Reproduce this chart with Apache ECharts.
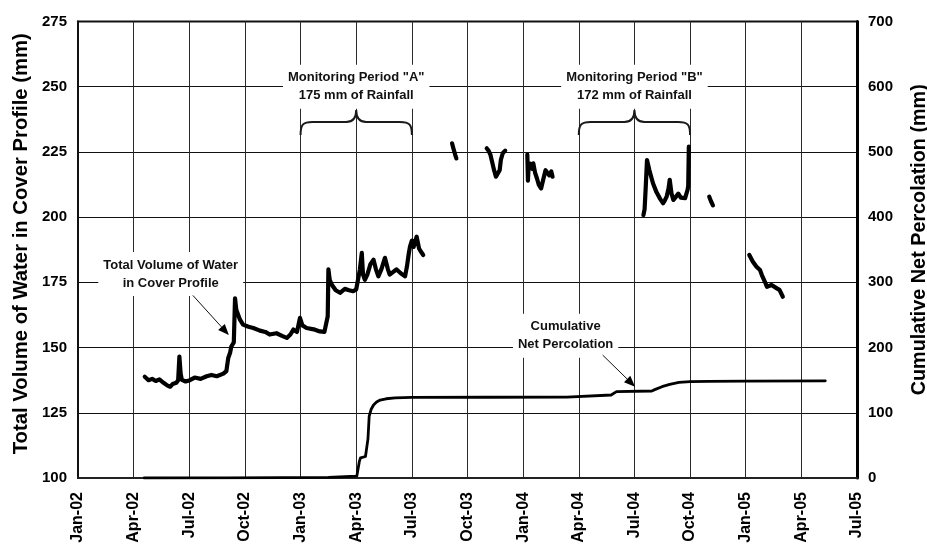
<!DOCTYPE html>
<html>
<head>
<meta charset="utf-8">
<script src="https://cdn.jsdelivr.net/npm/echarts@6/dist/echarts.min.js"></script>
<style>
  html, body { margin: 0; padding: 0; background: #fff; }
  #chart { width: 927px; height: 546px; }
</style>
</head>
<body>
<div id="chart"></div>
<script>
// Quarter tick labels along the bottom axis (one every three months from Jan-02)
const quarterLabels = ['Jan-02', 'Apr-02', 'Jul-02', 'Oct-02', 'Jan-03', 'Apr-03', 'Jul-03',
  'Oct-03', 'Jan-04', 'Apr-04', 'Jul-04', 'Oct-04', 'Jan-05', 'Apr-05', 'Jul-05'];

// Total volume of water in the cover profile (mm), logged in separate runs
const volumeRun1 = [
  ['2002-04-19', 138.8], ['2002-04-25', 137.5], ['2002-05-01', 138], ['2002-05-07', 137.2],
  ['2002-05-13', 137.8], ['2002-05-20', 136.5], ['2002-05-26', 135.5], ['2002-05-31', 135],
  ['2002-06-04', 136], ['2002-06-10', 136.5], ['2002-06-13', 137.5], ['2002-06-15', 146.5],
  ['2002-06-17', 140], ['2002-06-19', 137.6], ['2002-06-25', 137], ['2002-07-02', 137.5],
  ['2002-07-10', 138.5], ['2002-07-20', 138], ['2002-07-30', 139], ['2002-08-07', 139.5],
  ['2002-08-16', 139], ['2002-08-27', 140], ['2002-09-01', 141], ['2002-09-04', 146],
  ['2002-09-07', 148], ['2002-09-09', 150.4], ['2002-09-13', 152], ['2002-09-15', 168.9],
  ['2002-09-17', 164.5], ['2002-09-23', 160.7], ['2002-09-28', 158.8], ['2002-10-07', 158],
  ['2002-10-15', 157.5], ['2002-10-26', 156.5], ['2002-11-04', 156], ['2002-11-11', 155],
  ['2002-11-22', 155.5], ['2002-12-01', 154.5], ['2002-12-09', 153.7], ['2002-12-15', 155],
  ['2002-12-20', 156.9], ['2002-12-26', 156], ['2002-12-31', 161.4], ['2003-01-04', 158.5],
  ['2003-01-11', 157.5], ['2003-01-23', 157], ['2003-02-02', 156.2], ['2003-02-09', 156],
  ['2003-02-12', 155.6], ['2003-02-14', 162], ['2003-02-15', 180], ['2003-02-17', 176],
  ['2003-02-20', 174.2], ['2003-02-26', 172], ['2003-03-05', 171], ['2003-03-13', 172.5],
  ['2003-03-20', 172], ['2003-03-27', 171.6], ['2003-04-01', 172.3], ['2003-04-04', 172.3],
  ['2003-04-07', 180], ['2003-04-10', 186.3], ['2003-04-12', 178], ['2003-04-15', 176],
  ['2003-04-19', 178], ['2003-04-24', 182], ['2003-04-29', 183.7], ['2003-05-03', 180],
  ['2003-05-07', 177.3], ['2003-05-12', 180], ['2003-05-18', 184.4], ['2003-05-23', 180],
  ['2003-05-26', 178], ['2003-06-01', 179], ['2003-06-06', 180], ['2003-06-13', 178.5],
  ['2003-06-20', 177.3], ['2003-06-23', 181], ['2003-06-26', 186], ['2003-06-28', 188.7],
  ['2003-07-01', 191], ['2003-07-04', 188.6], ['2003-07-09', 192.5], ['2003-07-13', 188],
  ['2003-07-16', 186.8], ['2003-07-20', 185.5]
];
const volumeRun2 = [
  ['2003-09-06', 228.3], ['2003-09-08', 226.5], ['2003-09-11', 224], ['2003-09-13', 222.5]
];
const volumeRun3 = [
  ['2003-11-02', 226.4], ['2003-11-05', 225.5], ['2003-11-08', 224], ['2003-11-11', 221],
  ['2003-11-14', 218], ['2003-11-17', 215.5], ['2003-11-20', 214.9], ['2003-11-23', 218],
  ['2003-11-25', 222], ['2003-11-28', 224.5], ['2003-12-02', 225.5]
];
const volumeRun4 = [
  ['2004-01-08', 224], ['2004-01-09', 214], ['2004-01-10', 219], ['2004-01-13', 220.5],
  ['2004-01-16', 218.5], ['2004-01-18', 220.6], ['2004-01-21', 217], ['2004-01-24', 214.9],
  ['2004-01-27', 212.5], ['2004-01-31', 211], ['2004-02-04', 215], ['2004-02-07', 218],
  ['2004-02-09', 218.7], ['2004-02-13', 216], ['2004-02-16', 217.5], ['2004-02-18', 215.5]
];
const volumeRun5 = [
  ['2004-07-16', 200.8], ['2004-07-18', 203], ['2004-07-20', 212], ['2004-07-22', 221.9],
  ['2004-07-26', 218], ['2004-08-01', 213], ['2004-08-07', 209.5], ['2004-08-13', 207],
  ['2004-08-18', 205.3], ['2004-08-21', 206.5], ['2004-08-24', 208], ['2004-08-27', 211],
  ['2004-08-29', 214.3], ['2004-09-01', 209], ['2004-09-04', 206.6], ['2004-09-07', 207.5],
  ['2004-09-12', 209], ['2004-09-16', 207.5], ['2004-09-19', 208], ['2004-09-23', 207.3],
  ['2004-09-27', 210.5], ['2004-09-28', 212], ['2004-09-29', 227]
];
const volumeRun6 = [
  ['2004-11-02', 207.8], ['2004-11-05', 206], ['2004-11-08', 204.5]
];
const volumeRun7 = [
  ['2005-01-07', 185.5], ['2005-01-13', 182.9], ['2005-01-19', 181], ['2005-01-25', 179.7],
  ['2005-01-28', 177.8], ['2005-02-02', 175.2], ['2005-02-05', 173.3], ['2005-02-12', 174],
  ['2005-02-20', 172.7], ['2005-02-24', 172.1], ['2005-03-01', 169.5]
];

// Cumulative net percolation (mm), right-hand axis
const percolation = [
  ['2002-04-18', 0], ['2002-09-01', 0.3], ['2002-12-01', 0.6], ['2003-02-15', 1],
  ['2003-03-13', 2], ['2003-04-02', 3], ['2003-04-04', 4], ['2003-04-06', 25],
  ['2003-04-08', 31], ['2003-04-16', 33], ['2003-04-19', 36], ['2003-04-20', 60],
  ['2003-04-22', 95], ['2003-04-25', 105], ['2003-04-29', 112], ['2003-05-04', 116.5],
  ['2003-05-10', 119.5], ['2003-05-20', 121.5], ['2003-06-04', 123], ['2003-07-01', 123.5],
  ['2003-11-01', 123.8], ['2004-03-12', 124], ['2004-03-13', 127], ['2004-05-24', 127.3],
  ['2004-05-27', 129.5], ['2004-06-02', 132.5], ['2004-06-05', 133.2], ['2004-07-30', 133.4],
  ['2004-08-04', 135.5], ['2004-08-16', 140], ['2004-08-29', 143.5], ['2004-09-13', 146.5],
  ['2004-10-01', 147.8], ['2004-11-01', 148.3], ['2005-01-01', 148.7], ['2005-05-10', 149]
];

// Monitoring periods marked with braces: start, end
const periodStarts = ['2003-01-01', '2004-04-01'];
const periodEnds = ['2003-07-01', '2004-10-01'];
const periodTitles = ['Monitoring Period "A"\n175 mm of Rainfall', 'Monitoring Period "B"\n172 mm of Rainfall'];

// Series callouts: text, and arrows pointing at the curves
const calloutTexts = ['Total Volume of Water\nin Cover Profile', 'Cumulative\nNet Percolation'];

// Convert a date string into fractional months since 1 Jan 2002
function monthIndex(s) {
  const [y, m, d] = s.split('-').map(Number);
  const daysInMonth = new Date(y, m, 0).getDate();
  return (y - 2002) * 12 + (m - 1) + (d - 1) / daysInMonth;
}
const toXY = arr => arr.map(([d, v]) => [monthIndex(d), v]);

const FONT = '"Liberation Sans", Arial, Helvetica, sans-serif';
const INK = '#000';

const volumeRuns = [volumeRun1, volumeRun2, volumeRun3, volumeRun4, volumeRun5, volumeRun6, volumeRun7];
const volumeSeries = volumeRuns.map(run => ({
  type: 'line',
  yAxisIndex: 0,
  data: toXY(run),
  showSymbol: false,
  symbol: 'none',
  silent: true,
  lineStyle: { color: INK, width: 4.2, join: 'round', cap: 'round' },
  z: 5
}));

const percolationSeries = {
  type: 'line',
  yAxisIndex: 1,
  data: toXY(percolation),
  showSymbol: false,
  symbol: 'none',
  silent: true,
  lineStyle: { color: INK, width: 2.8, join: 'round', cap: 'round' },
  z: 4
};

// Curly braces above each monitoring period
const braceSeries = {
  type: 'custom',
  coordinateSystem: 'cartesian2d',
  yAxisIndex: 0,
  silent: true,
  data: periodStarts.map((s, i) => [monthIndex(s), monthIndex(periodEnds[i]), 236.5]),
  renderItem(params, api) {
    const a = api.coord([api.value(0), api.value(2)]);
    const b = api.coord([api.value(1), api.value(2)]);
    const x1 = a[0], x2 = b[0], y = a[1], xm = (x1 + x2) / 2;
    const path =
      `M${x1},${y + 13} C${x1},${y + 3} ${x1 + 2},${y} ${x1 + 12},${y} ` +
      `L${xm - 10},${y} C${xm - 3},${y} ${xm},${y - 4} ${xm},${y - 12} ` +
      `C${xm},${y - 4} ${xm + 3},${y} ${xm + 10},${y} ` +
      `L${x2 - 12},${y} C${x2 - 2},${y} ${x2},${y + 3} ${x2},${y + 13}`;
    return {
      type: 'path',
      shape: { pathData: path },
      style: { stroke: '#1a1a1a', lineWidth: 2, fill: null }
    };
  },
  z: 6
};

// Text boxes with white background, anchored in data coordinates (month, left-axis value)
const labelAnchors = [
  [monthIndex('2003-04-01'), 250, periodTitles[0]],
  [monthIndex('2004-07-01'), 250, periodTitles[1]],
  [monthIndex('2002-06-01'), 178.2, calloutTexts[0]],
  [monthIndex('2004-03-10'), 154.5, calloutTexts[1]]
];
const labelSeries = {
  type: 'custom',
  coordinateSystem: 'cartesian2d',
  yAxisIndex: 0,
  silent: true,
  data: labelAnchors.map(r => [r[0], r[1]]),
  renderItem(params, api) {
    const p = api.coord([api.value(0), api.value(1)]);
    return {
      type: 'text',
      x: p[0],
      y: p[1],
      style: {
        text: labelAnchors[params.dataIndex][2],
        fill: '#111',
        font: `bold 13px ${FONT}`,
        lineHeight: 18,
        align: 'center',
        verticalAlign: 'middle',
        backgroundColor: '#fff',
        padding: [4, 5]
      }
    };
  },
  z: 7
};

// Arrows from each callout to its curve: [fromMonth, fromValue, toMonth, toValue]
const arrowPaths = [
  [monthIndex('2002-07-07'), 170, monthIndex('2002-09-05'), 154.8],
  [monthIndex('2004-05-10'), 147.1, monthIndex('2004-07-02'), 135]
];
const arrowSeries = {
  type: 'custom',
  coordinateSystem: 'cartesian2d',
  yAxisIndex: 0,
  silent: true,
  data: arrowPaths,
  renderItem(params, api) {
    const s = api.coord([api.value(0), api.value(1)]);
    const e = api.coord([api.value(2), api.value(3)]);
    const ang = Math.atan2(e[1] - s[1], e[0] - s[0]);
    const len = 11, half = 4.5;
    const bx = e[0] - len * Math.cos(ang), by = e[1] - len * Math.sin(ang);
    const nx = -Math.sin(ang) * half, ny = Math.cos(ang) * half;
    return {
      type: 'group',
      children: [
        { type: 'line', shape: { x1: s[0], y1: s[1], x2: bx, y2: by },
          style: { stroke: '#111', lineWidth: 1 } },
        { type: 'polygon', shape: { points: [[e[0], e[1]], [bx + nx, by + ny], [bx - nx, by - ny]] },
          style: { fill: '#000' } }
      ]
    };
  },
  z: 8
};

const chart = echarts.init(document.getElementById('chart'), null, { renderer: 'canvas' });
chart.setOption({
  animation: false,
  backgroundColor: '#fff',
  grid: {
    left: 78, right: 70, top: 21.5, bottom: 68,
    outerBoundsMode: 'none',
    containLabel: false,
    show: true, borderColor: '#111', borderWidth: 2, backgroundColor: 'transparent'
  },
  xAxis: {
    type: 'value',
    min: 0, max: 42, interval: 3,
    axisLine: { show: true, lineStyle: { color: '#222', width: 2 } },
    axisTick: { show: false },
    splitLine: { show: true, lineStyle: { color: '#2a2a2a', width: 1 } },
    axisLabel: {
      rotate: 90, margin: 14,
      showMinLabel: true, showMaxLabel: true,
      color: INK, fontFamily: FONT, fontWeight: 'bold', fontSize: 16,
      formatter: v => quarterLabels[Math.round(v / 3)]
    }
  },
  yAxis: [
    {
      type: 'value', position: 'left',
      min: 100, max: 275, interval: 25,
      name: 'Total Volume of Water in Cover Profile (mm)',
      nameLocation: 'middle', nameRotate: 90, nameGap: 47,
      nameTextStyle: { color: INK, fontFamily: FONT, fontWeight: 'bold', fontSize: 20.3, padding: [0, 0, 0, 12] },
      axisLine: { show: true, lineStyle: { color: '#111', width: 2 } },
      axisTick: { show: false },
      splitLine: { show: true, lineStyle: { color: '#111', width: 1 } },
      axisLabel: { margin: 11, color: INK, fontFamily: FONT, fontWeight: 'bold', fontSize: 15 }
    },
    {
      type: 'value', position: 'right',
      min: 0, max: 700, interval: 100,
      name: 'Cumulative Net Percolation (mm)',
      nameLocation: 'middle', nameRotate: 90, nameGap: 53,
      nameTextStyle: { color: INK, fontFamily: FONT, fontWeight: 'bold', fontSize: 19.8, padding: [0, 0, 0, 20] },
      axisLine: { show: true, lineStyle: { color: '#000', width: 3 } },
      axisTick: { show: false },
      splitLine: { show: false },
      axisLabel: { margin: 11, color: INK, fontFamily: FONT, fontWeight: 'bold', fontSize: 15 }
    }
  ],
  series: [percolationSeries, ...volumeSeries, braceSeries, labelSeries, arrowSeries]
});
</script>
</body>
</html>
